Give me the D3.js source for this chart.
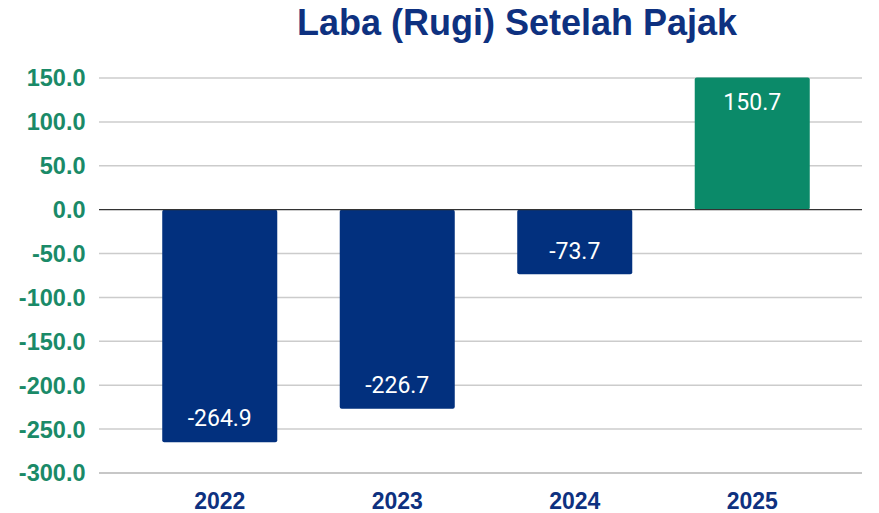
<!DOCTYPE html>
<html>
<head>
<meta charset="utf-8">
<script src="https://cdn.jsdelivr.net/npm/d3@7"></script>
<style>
  body { margin: 0; background: #fff; }
  svg { display: block; }
</style>
</head>
<body>
<div id="chart"></div>
<script>
// data
const years = ["2022", "2023", "2024", "2025"];
const labaRugi = [-264.9, -226.7, -73.7, 150.7];
const yTicks = [150, 100, 50, 0, -50, -100, -150, -200, -250, -300];

const width = 879, height = 513;
const svg = d3.select("#chart").append("svg")
    .attr("width", width)
    .attr("height", height);

// plain hyphen for negatives, like the original
const fmt = d3.formatLocale({ decimal: ".", thousands: ",", grouping: [3], currency: ["", ""], minus: "-" }).format(".1f");

const gridLeft = 99, gridRight = 862;

const y = d3.scaleLinear().domain([-300, 150]).range([473, 78]);
const x = d3.scaleBand().domain(years).range([131, 841]).paddingInner(0.352).paddingOuter(0.176);

svg.append("text")
   .attr("x", 517).attr("y", 35)
   .attr("text-anchor", "middle")
   .attr("font-family", "Liberation Sans, Arial, sans-serif")
   .attr("font-weight", "bold")
   .attr("font-size", 36)
   .attr("fill", "#0e3180")
   .text("Laba (Rugi) Setelah Pajak");

// gridlines
svg.append("g").selectAll("line")
   .data(yTicks.filter(d => d !== 0))
   .enter().append("line")
   .attr("x1", gridLeft).attr("x2", gridRight)
   .attr("y1", d => y(d)).attr("y2", d => y(d))
   .attr("stroke", d => d === -300 ? "#b5b5b5" : "#cccccc")
   .attr("stroke-width", 1.5);

// y tick labels
svg.append("g").selectAll("text")
   .data(yTicks)
   .enter().append("text")
   .attr("x", 85.5)
   .attr("y", d => y(d))
   .attr("dy", "0.36em")
   .attr("text-anchor", "end")
   .attr("font-family", "Liberation Sans, Arial, sans-serif")
   .attr("font-weight", "bold")
   .attr("font-size", 23.5)
   .attr("fill", "#1a8a68")
   .text(d => fmt(d));

// bars
const bars = years.map((yr, i) => ({ year: yr, value: labaRugi[i] }));
svg.append("g").selectAll("rect")
   .data(bars)
   .enter().append("rect")
   .attr("x", d => x(d.year))
   .attr("width", x.bandwidth())
   .attr("y", d => y(Math.max(0, d.value)))
   .attr("height", d => Math.abs(y(d.value) - y(0)))
   .attr("rx", 2)
   .attr("fill", d => d.value < 0 ? "#02307e" : "#0b8a69");

// zero line
svg.append("line")
   .attr("x1", gridLeft).attr("x2", gridRight)
   .attr("y1", y(0)).attr("y2", y(0))
   .attr("stroke", "#333")
   .attr("stroke-width", 1.2);

// value labels
svg.append("g").selectAll("text")
   .data(bars)
   .enter().append("text")
   .attr("x", d => x(d.year) + x.bandwidth() / 2)
   .attr("y", d => y(d.value) + (d.value < 0 ? -24 : 24))
   .attr("dy", "0.36em")
   .attr("text-anchor", "middle")
   .attr("font-family", "Roboto, sans-serif")
   .attr("font-size", 23)
   .attr("fill", "#fff")
   .text(d => fmt(d.value));

// x labels
svg.append("g").selectAll("text")
   .data(years)
   .enter().append("text")
   .attr("x", d => x(d) + x.bandwidth() / 2)
   .attr("y", 500.5)
   .attr("dy", "0.36em")
   .attr("text-anchor", "middle")
   .attr("font-family", "Liberation Sans, Arial, sans-serif")
   .attr("font-weight", "bold")
   .attr("font-size", 23)
   .attr("fill", "#0e3180")
   .text(d => d);
</script>
</body>
</html>
